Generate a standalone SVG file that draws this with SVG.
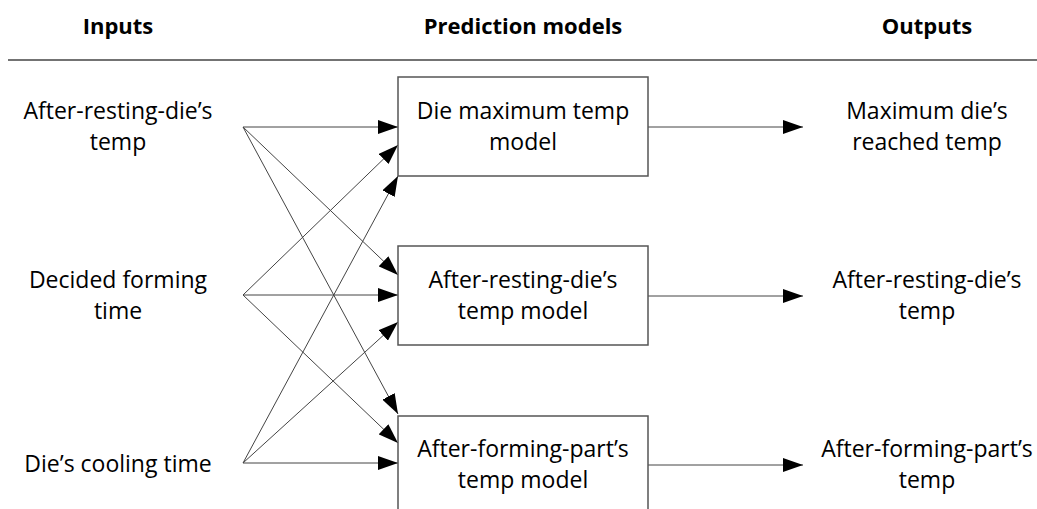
<svg xmlns="http://www.w3.org/2000/svg" width="1037" height="509" viewBox="0 0 1037 509">
  <style>
    .hdr { font-family: "Open Sans", "Noto Sans", sans-serif; font-weight: bold; font-size: 22px; fill: #000; text-anchor: middle; }
    .lbl { font-family: "Open Sans", "Noto Sans", sans-serif; font-size: 23px; fill: #000; text-anchor: middle; }
    .box { fill: #fff; stroke: #555; stroke-width: 1.5; }
    .edge { stroke: #444; stroke-width: 1; fill: none; marker-end: url(#arrow); }
  </style>
  <defs>
    <marker id="arrow" viewBox="0 0 20 14" refX="20" refY="7" markerWidth="20" markerHeight="14" markerUnits="userSpaceOnUse" orient="auto">
      <path d="M0,0 L20,7 L0,14 Z" fill="#000"/>
    </marker>
  </defs>
  <rect width="1037" height="509" fill="#fff"/>

  <!-- column headers -->
  <g id="headers">
    <text class="hdr" x="118" y="34">Inputs</text>
    <text class="hdr" x="523" y="34">Prediction models</text>
    <text class="hdr" x="927" y="34">Outputs</text>
    <line x1="8" y1="60" x2="1037" y2="60" stroke="#444" stroke-width="1.5"/>
  </g>

  <!-- connectors -->
  <g id="connectors">
    <line class="edge" x1="243" y1="127" x2="398" y2="127"/>
    <line class="edge" x1="243" y1="127" x2="398" y2="275"/>
    <line class="edge" x1="243" y1="127" x2="398" y2="414"/>
    <line class="edge" x1="243" y1="295" x2="398" y2="145"/>
    <line class="edge" x1="243" y1="295" x2="398" y2="295"/>
    <line class="edge" x1="243" y1="295" x2="398" y2="443"/>
    <line class="edge" x1="243" y1="463" x2="398" y2="176"/>
    <line class="edge" x1="243" y1="463" x2="398" y2="322"/>
    <line class="edge" x1="243" y1="463" x2="398" y2="463"/>
    <line class="edge" x1="648" y1="127" x2="803" y2="127"/>
    <line class="edge" x1="648" y1="296" x2="803" y2="296"/>
    <line class="edge" x1="648" y1="465" x2="803" y2="465"/>
  </g>

  <!-- inputs -->
  <g id="in-resting-temp">
    <text class="lbl" x="118" y="119">After-resting-die’s</text>
    <text class="lbl" x="118" y="150">temp</text>
  </g>
  <g id="in-forming-time">
    <text class="lbl" x="118" y="288">Decided forming</text>
    <text class="lbl" x="118" y="319">time</text>
  </g>
  <g id="in-cooling-time">
    <text class="lbl" x="118" y="472">Die’s cooling time</text>
  </g>

  <!-- prediction models -->
  <g id="model-max-temp">
    <rect class="box" x="398" y="77" width="250" height="99"/>
    <text class="lbl" x="523" y="119">Die maximum temp</text>
    <text class="lbl" x="523" y="150">model</text>
  </g>
  <g id="model-resting-temp">
    <rect class="box" x="398" y="246" width="250" height="99"/>
    <text class="lbl" x="523" y="288">After-resting-die’s</text>
    <text class="lbl" x="523" y="319">temp model</text>
  </g>
  <g id="model-forming-temp">
    <rect class="box" x="398" y="416" width="250" height="99"/>
    <text class="lbl" x="523" y="457">After-forming-part’s</text>
    <text class="lbl" x="523" y="488">temp model</text>
  </g>

  <!-- outputs -->
  <g id="out-max-temp">
    <text class="lbl" x="927" y="119">Maximum die’s</text>
    <text class="lbl" x="927" y="150">reached temp</text>
  </g>
  <g id="out-resting-temp">
    <text class="lbl" x="927" y="288">After-resting-die’s</text>
    <text class="lbl" x="927" y="319">temp</text>
  </g>
  <g id="out-forming-temp">
    <text class="lbl" x="927" y="457">After-forming-part’s</text>
    <text class="lbl" x="927" y="488">temp</text>
  </g>
</svg>
